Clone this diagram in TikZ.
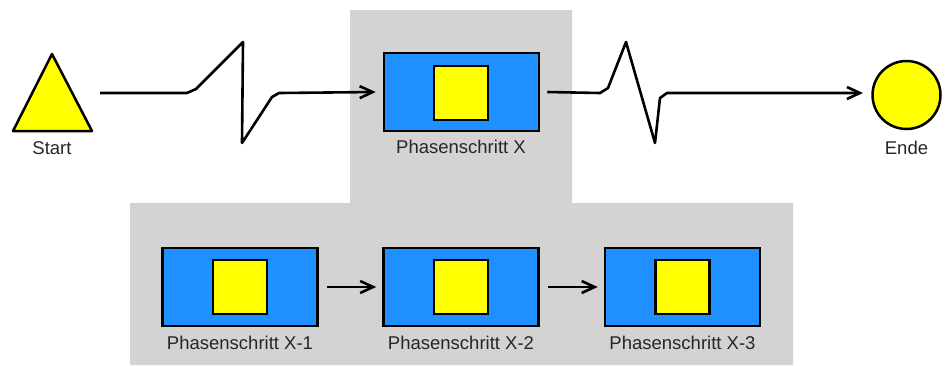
\documentclass[tikz,border=0pt]{standalone}
\usepackage{fontspec}
\setmainfont{Liberation Sans}
\usetikzlibrary{arrows.meta,calc}
\definecolor{bgrey}{HTML}{D3D3D3}
\definecolor{bblue}{HTML}{1E90FF}
\definecolor{byellow}{HTML}{FFFF00}
\begin{document}
\begin{tikzpicture}[x=1pt,y=-1pt,
  outerbox/.style={draw=black,line width=2.5pt,fill=bblue,minimum width=155pt,minimum height=78pt,inner sep=0pt},
  innerbox/.style={draw=black,line width=2.5pt,fill=byellow,minimum width=54pt,minimum height=54pt,inner sep=0pt},
  lbl/.style={font=\fontsize{18.5}{22}\selectfont,inner sep=0pt,text=black!85},
  arr/.style={line width=2.6pt,-{Straight Barb[length=13pt,width=12pt,line width=2.6pt]},line join=round}]
\useasboundingbox (0,0) rectangle (951,365);
% grey background
\fill[bgrey] (350,10) -- (572,10) -- (572,203) -- (793,203) -- (793,365) -- (130,365) -- (130,203) -- (350,203) -- cycle;
% start triangle
\draw[line width=2.5pt,fill=byellow,line join=round] (13,131) -- (52,54) -- (92,131) -- cycle;
\coordinate (start) at (100,93);
\node[lbl] (startlbl) at (52,148) {Start};
% end circle
\node[draw=black,line width=2.5pt,fill=byellow,circle,minimum size=68pt,inner sep=0pt] (ende) at (906.5,95) {};
\node[lbl] (endelbl) at (906.5,148) {Ende};
\coordinate (endin) at (863,93);
% Phasenschritt X
\node[outerbox] (bx) at (461.5,92) {};
\node[innerbox] (ix) at (461,93) {};
\node[lbl] (lx) at (461,147) {Phasenschritt X};
% bottom row
\node[outerbox] (b1) at (240,287) {};
\node[innerbox] (i1) at (240,287) {};
\node[lbl] (l1) at (240,343) {Phasenschritt X-1};
\node[outerbox] (b2) at (461,287) {};
\node[innerbox] (i2) at (461,287) {};
\node[lbl] (l2) at (461,343) {Phasenschritt X-2};
\node[outerbox] (b3) at (682.5,287) {};
\node[innerbox] (i3) at (682.5,287) {};
\node[lbl] (l3) at (682.5,343) {Phasenschritt X-3};
% connectors
\draw[arr] (start) -- (187,93) -- (196,89) -- (243,42) -- (242,143) -- (272,97) -- (279,93) -- ([xshift=-7pt]bx.west);
\draw[arr] ([xshift=7pt]bx.east) -- (600,93) -- (608,88) -- (626,42) -- (655,143) -- (660,98) -- (667,93) -- (endin);
\draw[arr,shorten <=8pt,shorten >=6pt] (b1.east) -- (b2.west);
\draw[arr,shorten <=8pt,shorten >=6pt] (b2.east) -- (b3.west);
\end{tikzpicture}
\end{document}
